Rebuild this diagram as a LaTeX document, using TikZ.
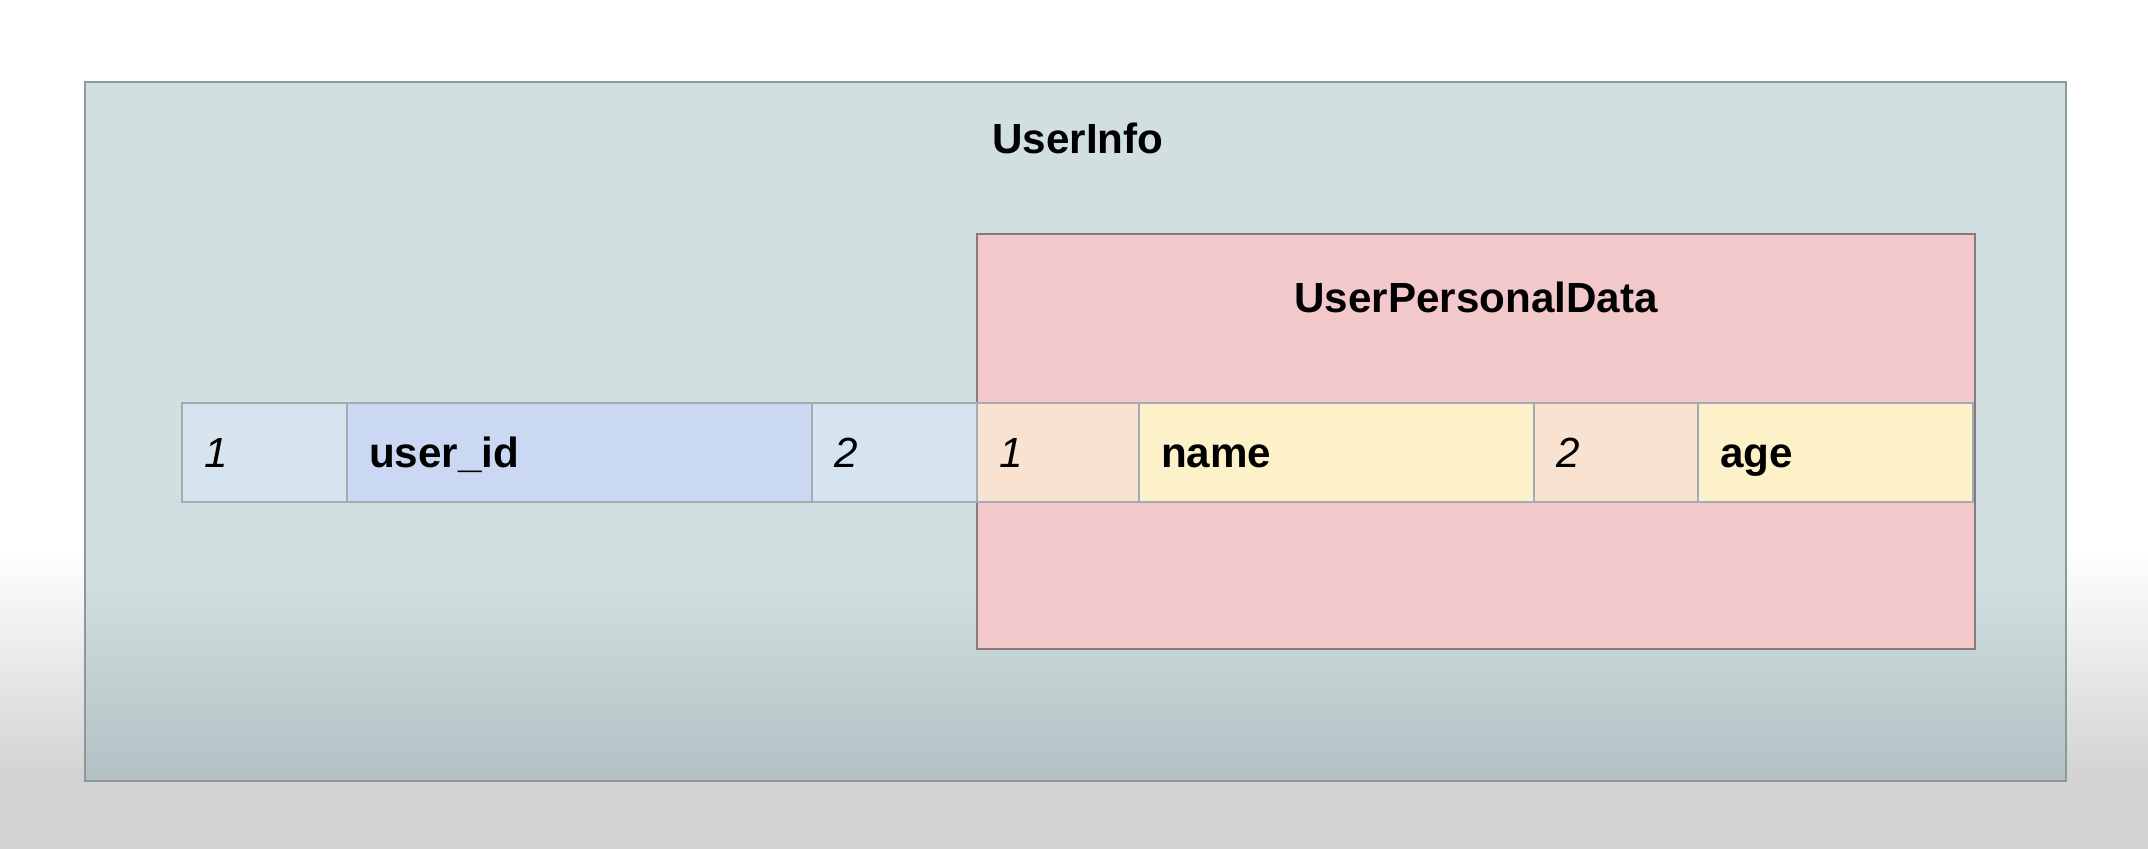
\documentclass[tikz,border=0pt]{standalone}
\usepackage{fontspec}
\setmainfont{Liberation Sans}
\usetikzlibrary{positioning}

\definecolor{bggray}{HTML}{D2D2D2}
\definecolor{outerfill}{HTML}{D1DFE1}
\definecolor{outerdark}{HTML}{B3C1C4}
\definecolor{outerline}{HTML}{8C9899}
\definecolor{pinkfill}{HTML}{F2C8CB}
\definecolor{pinkline}{HTML}{857A7C}
\definecolor{cellline}{HTML}{A3ACB3}
\definecolor{numblue}{HTML}{D6E4EF}
\definecolor{idblue}{HTML}{CAD8F4}
\definecolor{numpeach}{HTML}{FAE2D0}
\definecolor{nameyellow}{HTML}{FCF1C9}

\tikzset{
	boxtitle/.style={font=\fontsize{12}{14}\selectfont\bfseries},
	cell/.style={draw=cellline, line width=0.5pt, minimum height=0.99cm,
		inner xsep=0.22cm, inner ysep=0pt, outer sep=0pt, align=left,
		text height=10.1pt, text depth=1.4pt,
		font=\fontsize{12}{14}\selectfont}
}

\begin{document}
\begin{tikzpicture}
	% Background
	\useasboundingbox (0,0) rectangle (21.48,8.49);
	\fill[white] (0,0) rectangle (21.48,8.49);
	\shade[top color=white, bottom color=bggray] (0,0.68) rectangle (21.48,3.0);
	\fill[bggray] (0,0) rectangle (21.48,0.68);
	
	% Outer box
	\fill[outerfill] (0.85,0.68) rectangle (20.66,7.67);
	\shade[top color=outerfill, bottom color=outerdark] (0.85,0.68) rectangle (20.66,2.7);
	\draw[outerline, line width=0.6pt] (0.85,0.68) rectangle (20.66,7.67);
	\node[boxtitle] (userinfo) at (10.78,7.11) {UserInfo};
	
	% Inner box
	\draw[pinkline, line width=0.6pt, fill=pinkfill] (9.77,2.0) rectangle (19.75,6.15);
	\node[boxtitle] (personal) at (14.76,5.52) {UserPersonalData};
	
	% Row of cells
	\coordinate (start) at (1.82,3.965);
	\foreach \name/\w/\col/\txt [remember=\name as \prev (initially start)] in {
		numa/1.65/numblue/{\itshape 1},
		userid/4.65/idblue/{\bfseries user\_id},
		numb/1.65/numblue/{\itshape 2},
		numc/1.62/numpeach/{\itshape 1},
		name/3.95/nameyellow/{\bfseries name},
		numd/1.64/numpeach/{\itshape 2},
		age/2.75/nameyellow/{\bfseries age}}
	{
		\pgfmathsetmacro{\tw}{\w-0.44}
		\node[cell, fill=\col, minimum width=\w cm, text width=\tw cm,
			right=0pt of \prev] (\name) {\txt};
	}
\end{tikzpicture}
\end{document}
